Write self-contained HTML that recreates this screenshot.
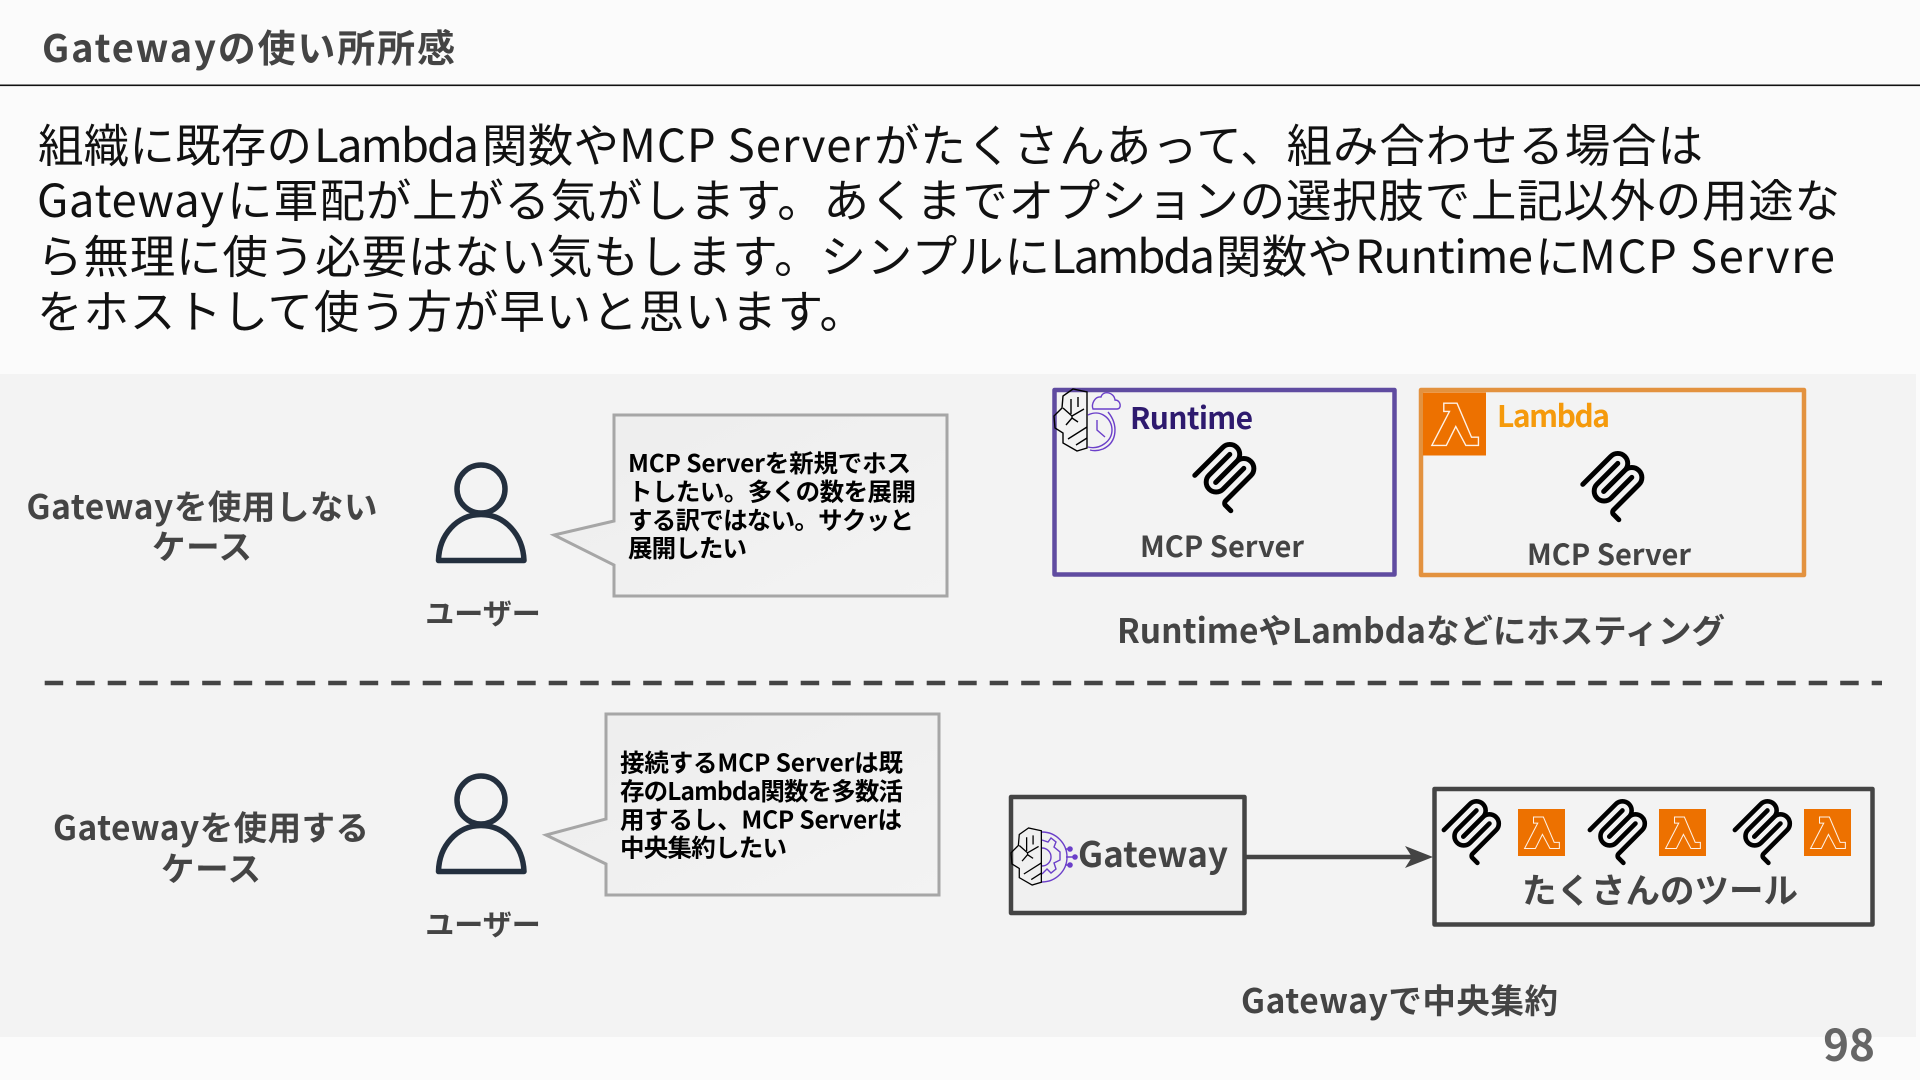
<!DOCTYPE html>
<html lang="ja"><head><meta charset="utf-8"><title>Gatewayの使い所所感</title>
<style>
html,body{margin:0;padding:0;width:1920px;height:1080px;overflow:hidden;background:#fbfbfb}
svg{display:block}
text{font-family:"Noto Sans CJK JP","Liberation Sans",sans-serif}
.b{font-weight:700;fill:#444}
.m{font-weight:700;fill:#444}
.body{font-size:45.5px;font-weight:400;fill:#111}
.c{font-size:24.5px;font-weight:700;fill:#000}
</style></head><body>
<svg width="1920" height="1080" viewBox="0 0 1920 1080" xmlns="http://www.w3.org/2000/svg">
<defs>
<g id="mcp" fill="none" stroke="#000" stroke-width="12" stroke-linecap="round">
<path d="M18 84.85L85.88 16.97C95.25 7.6 110.45 7.6 119.82 16.97C129.2 26.34 129.2 41.54 119.82 50.91L68.56 102.18"/>
<path d="M69.27 101.47L119.82 50.91C129.2 41.54 144.39 41.54 153.77 50.91L154.12 51.27C163.49 60.64 163.49 75.83 154.12 85.21L92.72 146.6C89.6 149.72 89.6 154.79 92.72 157.91L105.33 170.52"/>
<path d="M102.85 33.94L52.65 84.15C43.28 93.52 43.28 108.71 52.65 118.09C62.02 127.46 77.22 127.46 86.59 118.09L136.79 67.88"/>
</g>
<g id="lam">
<rect width="100" height="100" fill="#ed7100"/>
<path d="M33 17V30H42L14 84H37L52 54L68 84H88V71H77L54 17Z" fill="none" stroke="#fff" stroke-width="2.2" opacity=".9"/>
</g>
<g id="brain" fill="none" stroke="#000" stroke-width="1.4">
<path d="M19 0L9 7L8 19L0 27L1 39L9 44L9 54L23 62L33 59V3Z"/>
<path d="M9 19L18 27L30 20M18 27V29M17 10V25M24 8V18M18 29L12 36M18 29L24 33M14 50L33 38M22 56L33 49"/>
</g>
<g id="person" fill="none" stroke="#232f3e" stroke-width="5.5">
<circle cx="0" cy="0" r="24"/>
<path d="M-42.5 71.5C-42 46-24 25.5 0 25.5C24 25.5 42 46 43 71.5Z" stroke-linejoin="round"/>
</g>
<linearGradient id="cg" x1="0" y1="0" x2="1" y2="1"><stop offset="0" stop-color="#ededed"/><stop offset="1" stop-color="#f3f3f3"/></linearGradient>
</defs>

<rect x="0" y="374" width="1916" height="663" fill="#f3f3f3"/>
<text class="m" x="42" y="62" font-size="38" textLength="413" lengthAdjust="spacing">Gatewayの使い所所感</text>
<rect x="0" y="84.5" width="1920" height="1.6" fill="#111"/>

<g class="body">
<text class="body" x="38" y="162" textLength="274" lengthAdjust="spacing">組織に既存の</text>
<text class="body" x="314" y="162" textLength="165" lengthAdjust="spacing">Lambda</text>
<text class="body" x="482" y="162" textLength="137" lengthAdjust="spacing">関数や</text>
<text class="body" x="619" y="162" textLength="251" lengthAdjust="spacing">MCP Server</text>
<text class="body" x="874" y="162" textLength="829" lengthAdjust="spacing">がたくさんあって、組み合わせる場合は</text>

<text class="body" x="37" y="217" textLength="187" lengthAdjust="spacing">Gateway</text>
<text class="body" x="227" y="217" textLength="1613" lengthAdjust="spacing">に軍配が上がる気がします。あくまでオプションの選択肢で上記以外の用途な</text>

<text class="body" x="37" y="273" textLength="1013" lengthAdjust="spacing">ら無理に使う必要はない気もします。シンプルに</text>
<text class="body" x="1051" y="273" textLength="164" lengthAdjust="spacing">Lambda</text>
<text class="body" x="1216" y="273" textLength="137" lengthAdjust="spacing">関数や</text>
<text class="body" x="1355" y="273" textLength="178" lengthAdjust="spacing">Runtime</text>
<text class="body" x="1535" y="273" textLength="45" lengthAdjust="spacing">に</text>
<text class="body" x="1579" y="273" textLength="256" lengthAdjust="spacing">MCP Servre</text>

<text class="body" x="37" y="328" textLength="828" lengthAdjust="spacing">をホストして使う方が早いと思います。</text>
</g>

<text class="b" x="202" y="519" font-size="33.5" text-anchor="middle" textLength="351" lengthAdjust="spacing">Gatewayを使用しない</text>
<text class="b" x="202" y="559" font-size="33.5" text-anchor="middle" textLength="100" lengthAdjust="spacing">ケース</text>
<text class="b" x="211" y="840" font-size="33.5" text-anchor="middle" textLength="316" lengthAdjust="spacing">Gatewayを使用する</text>
<text class="b" x="211" y="881" font-size="33.5" text-anchor="middle" textLength="100" lengthAdjust="spacing">ケース</text>

<use href="#person" x="481" y="489"/>
<use href="#person" x="481" y="800"/>
<text class="b" x="483" y="624" font-size="29" text-anchor="middle">ユーザー</text>
<text class="b" x="483" y="935" font-size="29" text-anchor="middle">ユーザー</text>

<path d="M614 415H947V596H614V565L554 535L614 521Z" fill="url(#cg)" stroke="#a6a6a6" stroke-width="3"/>
<text class="c" x="628" y="472" textLength="283" lengthAdjust="spacing">MCP Serverを新規でホス</text>
<text class="c" x="628" y="500.5" textLength="288" lengthAdjust="spacing">トしたい。多くの数を展開</text>
<text class="c" x="628" y="529" textLength="286" lengthAdjust="spacing">する訳ではない。サクッと</text>
<text class="c" x="628" y="557" textLength="119" lengthAdjust="spacing">展開したい</text>

<path d="M606 714H939V895H606V864L546 835L606 819Z" fill="url(#cg)" stroke="#a6a6a6" stroke-width="3"/>
<text class="c" x="620" y="771.5" textLength="283" lengthAdjust="spacing">接続するMCP Serverは既</text>
<text class="c" x="620" y="800" textLength="283" lengthAdjust="spacing">存のLambda関数を多数活</text>
<text class="c" x="620" y="828.5" textLength="282" lengthAdjust="spacing">用するし、MCP Serverは</text>
<text class="c" x="620" y="856.5" textLength="167" lengthAdjust="spacing">中央集約したい</text>

<!-- Runtime box -->
<rect x="1054.5" y="390" width="340" height="184.5" fill="none" stroke="#5f4ba0" stroke-width="4.5" stroke-linejoin="round"/>
<use href="#brain" x="1054" y="389"/>
<g fill="none" stroke="#6b3fc9" stroke-width="1.4">
<path d="M1093 409H1117C1122 409 1121 400 1115 400C1114 392 1103 390 1101 397C1095 396 1091 404 1093 409Z"/>
<path d="M1088 415C1100 409 1112 418 1112 430C1112 441 1100 450 1088 447"/>
<path d="M1108 412C1118 424 1118 442 1103 449C1098 451 1094 451 1090 450"/>
<path d="M1097 420V430L1105 437"/>
</g>
<text x="1130" y="429" font-size="30" font-weight="700" fill="#2e1a6e" textLength="123" lengthAdjust="spacing">Runtime</text>
<svg x="1192" y="442" width="65" height="71" viewBox="12 4 156 172" overflow="visible"><use href="#mcp"/></svg>
<text class="m" x="1222" y="557" font-size="29" text-anchor="middle" textLength="164" lengthAdjust="spacing">MCP Server</text>

<!-- Lambda box -->
<rect x="1421" y="390" width="383" height="185" fill="none" stroke="#e3923f" stroke-width="4.5" stroke-linejoin="round"/>
<svg x="1423" y="392" width="63" height="64" viewBox="0 0 100 100"><use href="#lam"/></svg>
<text x="1497" y="427" font-size="30" font-weight="700" fill="#f59a0c" textLength="113" lengthAdjust="spacing">Lambda</text>
<svg x="1580" y="451" width="65" height="71" viewBox="12 4 156 172" overflow="visible"><use href="#mcp"/></svg>
<text class="m" x="1609" y="565" font-size="29" text-anchor="middle" textLength="164" lengthAdjust="spacing">MCP Server</text>

<text class="b" x="1117" y="643" font-size="33.5" textLength="608" lengthAdjust="spacing">RuntimeやLambdaなどにホスティング</text>

<line x1="44.7" y1="683" x2="1882" y2="683" stroke="#444" stroke-width="4.5" stroke-dasharray="18.5 13"/>

<!-- Gateway box -->
<rect x="1011" y="797" width="233.5" height="116" fill="#f0f0f0" stroke="#444" stroke-width="4.5" stroke-linejoin="round"/>
<g fill="none" stroke="#6b3fc9" stroke-width="1.4">
<path d="M1042 832A25 25 0 0 1 1042 882"/>
<path d="M1042 840L1048 842L1051 838L1056 842L1054 847L1060 852V860L1054 863L1056 869L1051 873L1047 869L1042 874"/>
<path d="M1042 848A9 9 0 0 1 1042 866"/>
<path d="M1065 849H1070M1066 857H1075M1065 865H1070"/>
</g>
<g fill="#6b3fc9"><circle cx="1070" cy="849" r="2.8"/><circle cx="1075" cy="857" r="2.8"/><circle cx="1070" cy="865" r="2.8"/></g>
<g transform="translate(1011 828) scale(.92)"><use href="#brain"/></g>
<text class="m" x="1078" y="867" font-size="35" textLength="150" lengthAdjust="spacing">Gateway</text>

<!-- arrow -->
<line x1="1246" y1="857" x2="1420" y2="857" stroke="#444" stroke-width="4.5"/>
<path d="M1433 857L1405 846L1412 857L1405 868Z" fill="#444"/>

<!-- Tools box -->
<rect x="1434.5" y="789" width="438" height="135.5" fill="none" stroke="#444" stroke-width="4.5" stroke-linejoin="round"/>
<svg x="1441" y="799" width="61" height="66" viewBox="12 4 156 172" overflow="visible"><use href="#mcp"/></svg>
<svg x="1587" y="799" width="61" height="66" viewBox="12 4 156 172" overflow="visible"><use href="#mcp"/></svg>
<svg x="1732" y="799" width="61" height="66" viewBox="12 4 156 172" overflow="visible"><use href="#mcp"/></svg>
<svg x="1518" y="809" width="47" height="47" viewBox="0 0 100 100"><use href="#lam"/></svg>
<svg x="1659" y="809" width="47" height="47" viewBox="0 0 100 100"><use href="#lam"/></svg>
<svg x="1804" y="809" width="47" height="47" viewBox="0 0 100 100"><use href="#lam"/></svg>
<text class="m" x="1522" y="903" font-size="34.5" textLength="276" lengthAdjust="spacing">たくさんのツール</text>

<text class="b" x="1241" y="1013" font-size="33.5" textLength="317" lengthAdjust="spacing">Gatewayで中央集約</text>
<text x="1875" y="1061" font-size="44" font-weight="700" fill="#666" text-anchor="end">98</text>
</svg>
</body></html>
